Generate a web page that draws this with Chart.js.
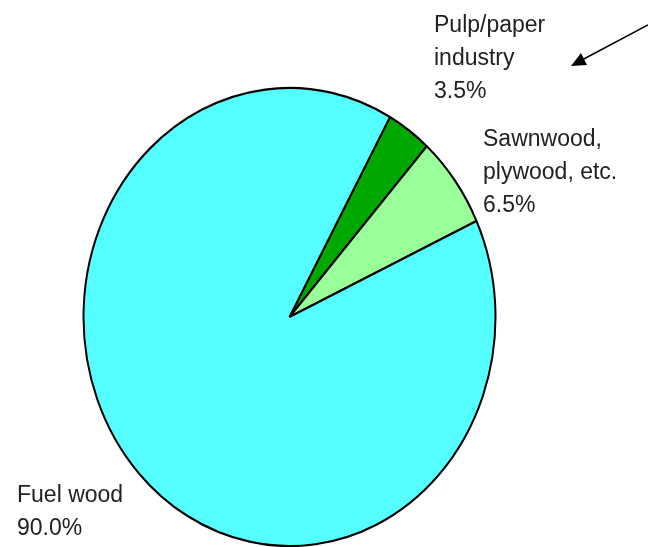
<!DOCTYPE html>
<html>
<head>
<meta charset="utf-8">
<script src="https://cdn.jsdelivr.net/npm/chart.js@4.4.1/dist/chart.umd.min.js"></script>
<style>
  html, body { margin: 0; padding: 0; background: #fff; }
  #wrap { width: 648px; height: 547px; position: relative; }
</style>
</head>
<body>
<div id="wrap"><canvas id="pie"></canvas></div>
<script>
// data
const categories = ["Pulp/paper industry", "Sawnwood, plywood, etc.", "Fuel wood"];
const shares = [3.5, 6.5, 90.0];
const labelLines = [["Pulp/paper", "industry"], ["Sawnwood,", "plywood, etc."], ["Fuel wood"]];
const sliceColors = ["#00a800", "#99ff99", "#55ffff"];

// where each label block sits (x, first baseline)
const labelPos = [[434, 32], [483, 146], [17, 502]];
const lineGap = 33;

// the original pie is slightly taller than wide
const stretchY = 1.112;

const ellipsePie = {
  id: 'ellipsePie',
  beforeDatasetsDraw(chart) {
    const arc = chart.getDatasetMeta(0).data[0];
    const ctx = chart.ctx;
    ctx.save();
    ctx.translate(arc.x, arc.y);
    ctx.scale(1, stretchY);
    ctx.translate(-arc.x, -arc.y);
  },
  afterDatasetsDraw(chart) {
    chart.ctx.restore();
  }
};

const pieLabels = {
  id: 'pieLabels',
  afterDraw(chart) {
    const ctx = chart.ctx;
    ctx.save();
    ctx.font = '23px "Liberation Sans", Arial, sans-serif';
    ctx.fillStyle = '#222';
    ctx.textAlign = 'left';
    ctx.textBaseline = 'alphabetic';
    labelLines.forEach((lines, i) => {
      const [x, y] = labelPos[i];
      const all = lines.concat([shares[i].toFixed(1) + '%']);
      all.forEach((t, j) => ctx.fillText(t, x, y + j * lineGap));
    });

    // arrow top right
    ctx.strokeStyle = '#000';
    ctx.fillStyle = '#000';
    ctx.lineWidth = 1.5;
    ctx.beginPath();
    ctx.moveTo(648, 25);
    ctx.lineTo(580, 61);
    ctx.stroke();
    ctx.beginPath();
    ctx.moveTo(571, 66);
    ctx.lineTo(581, 53);
    ctx.lineTo(587, 65);
    ctx.closePath();
    ctx.fill();
    ctx.restore();
  }
};

new Chart(document.getElementById('pie'), {
  type: 'pie',
  plugins: [ellipsePie, pieLabels],
  data: {
    labels: categories,
    datasets: [{
      data: shares,
      backgroundColor: sliceColors,
      borderColor: '#000',
      borderWidth: 2,
      borderAlign: 'center'
    }]
  },
  options: {
    responsive: true,
    maintainAspectRatio: false,
    animation: false,
    rotation: 29.2,
    radius: 206,
    layout: { padding: { left: 83, right: 152, top: 111, bottom: 24 } },
    plugins: {
      legend: { display: false },
      tooltip: { enabled: false }
    }
  }
});
</script>
</body>
</html>
